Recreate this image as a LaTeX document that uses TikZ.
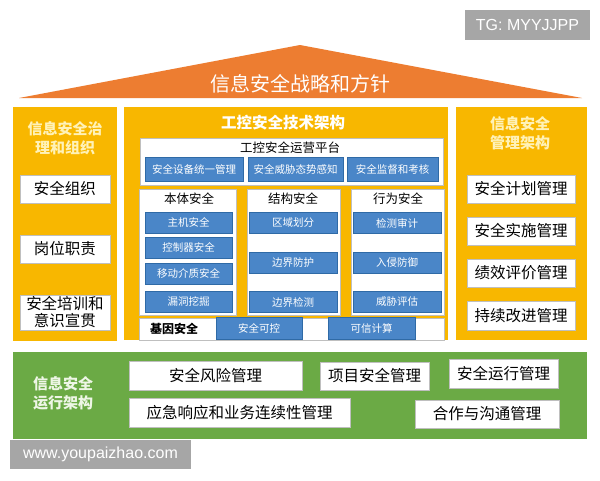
\documentclass[tikz,border=0pt]{standalone}
\usepackage{fontspec}
\newfontfamily\cjk{Noto Sans CJK SC}
\newfontfamily\wmfont{Liberation Sans}
\definecolor{roof}{HTML}{ED7D31}
\definecolor{pillar}{HTML}{F8B700}
\definecolor{tech}{HTML}{4A86C8}
\definecolor{techline}{HTML}{2F6AA6}
\definecolor{base}{HTML}{6BAA45}
\definecolor{paleyel}{HTML}{FFF2B8}
\definecolor{palegrn}{HTML}{EEF6E6}
\begin{document}
\begin{tikzpicture}[x=1pt,y=-1pt,
    every node/.style={font=\cjk, inner sep=0pt, align=center},
    wbox/.style={draw=black!25, fill=white, font=\cjk\fontsize{15.5}{17}\selectfont},
    tbox/.style={draw=techline, fill=tech, text=white, font=\cjk\fontsize{10.5}{12}\selectfont},
    sub/.style={draw=black!25, fill=white},
    head/.style={font=\cjk\fontsize{12.5}{14}\selectfont},
    side/.style={text=paleyel, font=\cjk\bfseries\fontsize{15}{19}\selectfont},
    stamp/.style={fill=black!35, text=white, font=\wmfont\fontsize{16}{18}\selectfont}]
    \useasboundingbox[fill=white] (0,0) rectangle (600,480);

    % roof
    \fill[roof] (19,98) -- (300,45) -- (582,98) -- cycle;
    \node (strategy) [text=white, font=\cjk\fontsize{20}{22}\selectfont] at (300,84) {信息安全战略和方针};

    % pillars
    \fill[pillar] (13,107) rectangle (117,341);
    \fill[pillar] (124,107) rectangle (448,340);
    \fill[pillar] (456,107) rectangle (587,340);

    % left pillar
    \node (govern) [side] at (65,138) {信息安全治\\理和组织};
    \node (org) [wbox, minimum width=90pt, minimum height=28pt] at (65,189) {安全组织};
    \node (duty) [wbox, minimum width=90pt, minimum height=28pt] at (65,249) {岗位职责};
    \node (train) [wbox, minimum width=90pt, minimum height=35pt] at (65,312.5) {安全培训和\\意识宣贯};

    % right pillar
    \node (mgmt) [side] at (520,133) {信息安全\\管理架构};
    \node (plan) [wbox, minimum width=108pt, minimum height=28pt] at (521,189) {安全计划管理};
    \node (impl) [wbox, minimum width=108pt, minimum height=28pt] at (521,231) {安全实施管理};
    \node (perf) [wbox, minimum width=108pt, minimum height=28pt] at (521,273) {绩效评价管理};
    \node (improve) [wbox, minimum width=108pt, minimum height=29pt] at (521,315.5) {持续改进管理};

    % middle pillar
    \node (techarch) [text=white, font=\cjk\bfseries\fontsize{15.5}{17}\selectfont] at (283,123) {工控安全技术架构};
    \node (platform) [sub, minimum width=303pt, minimum height=47pt] at (291.5,161.5) {};
    \node (platname) [head] at (290,148) {工控安全运营平台};
    \node (unify) [tbox, minimum width=98pt, minimum height=24pt] at (194,169) {安全设备统一管理};
    \node (aware) [tbox, minimum width=95pt, minimum height=24pt] at (295.5,169) {安全威胁态势感知};
    \node (audit) [tbox, minimum width=91pt, minimum height=24pt] at (392.5,169) {安全监督和考核};

    \node (host) [sub, minimum width=97pt, minimum height=126pt] at (187.5,252) {};
    \node (struct) [sub, minimum width=93pt, minimum height=126pt] at (293.5,252) {};
    \node (behave) [sub, minimum width=93pt, minimum height=126pt] at (397.5,252) {};
    \node (hostname) [head] at (189,199) {本体安全};
    \node (structname) [head] at (293,199) {结构安全};
    \node (behavename) [head] at (398,199) {行为安全};

    \node (h1) [tbox, minimum width=87pt, minimum height=21pt] at (188.5,222.5) {主机安全};
    \node (h2) [tbox, minimum width=87pt, minimum height=21pt] at (188.5,247.5) {控制器安全};
    \node (h3) [tbox, minimum width=87pt, minimum height=21pt] at (188.5,273.5) {移动介质安全};
    \node (h4) [tbox, minimum width=87pt, minimum height=21pt] at (188.5,301.5) {漏洞挖掘};

    \node (s1) [tbox, minimum width=88pt, minimum height=21pt] at (293,223) {区域划分};
    \node (s2) [tbox, minimum width=88pt, minimum height=21pt] at (293,262.5) {边界防护};
    \node (s3) [tbox, minimum width=88pt, minimum height=21pt] at (293,302) {边界检测};

    \node (b1) [tbox, minimum width=88pt, minimum height=21pt] at (397,223) {检测审计};
    \node (b2) [tbox, minimum width=88pt, minimum height=21pt] at (397,262.5) {入侵防御};
    \node (b3) [tbox, minimum width=88pt, minimum height=21pt] at (397,302) {威胁评估};

    \node (gene) [sub, minimum width=305pt, minimum height=22pt] at (291.5,329) {};
    \node (genename) [head, font=\cjk\bfseries\fontsize{12}{14}\selectfont] at (174,329) {基因安全};
    \node (ctrl) [tbox, minimum width=86pt, minimum height=22pt] at (259,328) {安全可控};
    \node (trust) [tbox, minimum width=87pt, minimum height=22pt] at (371.5,328) {可信计算};

    % foundation
    \fill[base] (13,352) rectangle (587,439);
    \node (ops) [side, text=palegrn] at (63,393) {信息安全\\运行架构};
    \node (risk) [wbox, minimum width=173pt, minimum height=29pt] at (215.5,375.5) {安全风险管理};
    \node (project) [wbox, minimum width=109pt, minimum height=28pt] at (374.5,376) {项目安全管理};
    \node (run) [wbox, minimum width=109pt, minimum height=29pt] at (503.5,373.5) {安全运行管理};
    \node (emerg) [wbox, minimum width=221pt, minimum height=29pt] at (239.5,412.5) {应急响应和业务连续性管理};
    \node (comm) [wbox, minimum width=144pt, minimum height=28pt] at (487,414) {合作与沟通管理};

    % watermarks
    \node (tg) [stamp, minimum width=125pt, minimum height=30pt] at (527.5,25) {TG: MYYJJPP};
    \node (site) [stamp, minimum width=181pt, minimum height=29pt] at (100.5,454.5) {www.youpaizhao.com};
\end{tikzpicture}
\end{document}
